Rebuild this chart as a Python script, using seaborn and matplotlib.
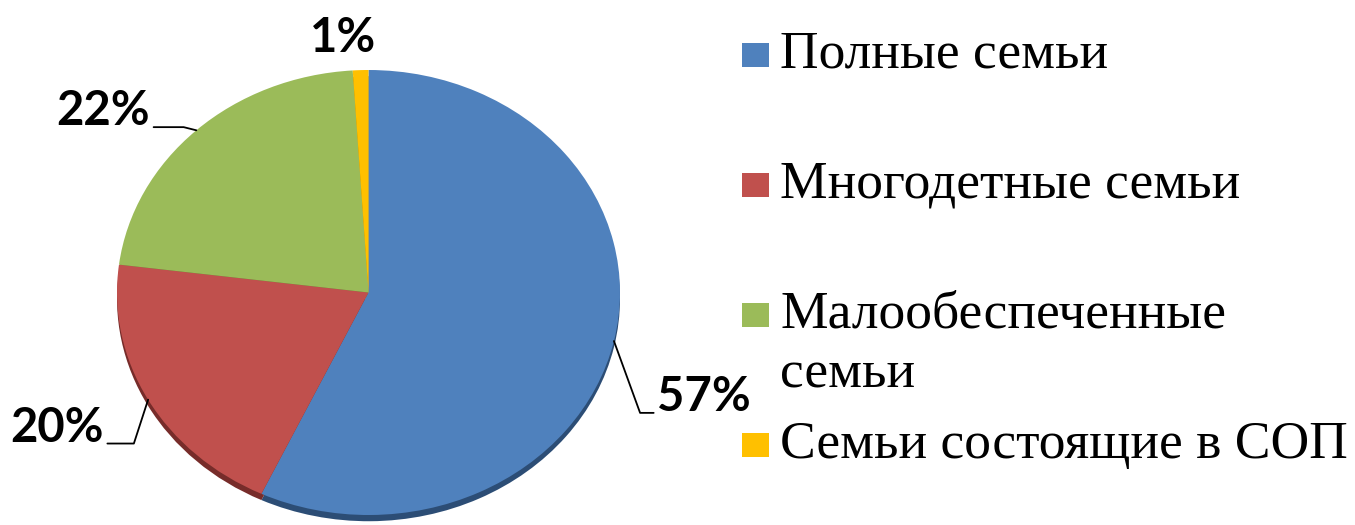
import numpy as np
import matplotlib
matplotlib.use("Agg")
import matplotlib.pyplot as plt
import seaborn as sns
from matplotlib.patches import Rectangle

# --- Dane ---
categories = ["Полные семьи", "Многодетные семьи", "Малообеспеченные\nсемьи",
              "Семьи состоящие в СОП"]
shares = [57, 20, 22, 1]
pct_labels = ["57%", "20%", "22%", "1%"]
colors = ["#4F81BD", "#C0504D", "#9BBB59", "#FFC000"]
shadow_colors = ["#2C4D75", "#772C2A", "#5F7530", "#B38600"]

sns.set_theme(style="white")
plt.rcParams['font.family'] = ['Liberation Serif', 'DejaVu Serif']

fig = plt.figure(figsize=(13.55, 5.25), dpi=100)
W, H = 1355, 525

# obszar elipsy w pikselach
px_l, px_r, px_t, px_b = 117, 620, 70, 515
ax = fig.add_axes([px_l / W, 1 - px_b / H, (px_r - px_l) / W, (px_b - px_t) / H])

# efekt "3D" pod wykresem
ax.pie(shares, colors=shadow_colors, startangle=90, counterclock=False,
       center=(0, -0.028), wedgeprops=dict(linewidth=0))
wedges, _ = ax.pie(shares, colors=colors, startangle=90, counterclock=False,
                   wedgeprops=dict(linewidth=0))
ax.set_aspect('auto')
ax.set_xlim(-1, 1)
ax.set_ylim(-1, 1)
ax.axis('off')

# --- Etykiety procentowe ---
label_font = dict(family=['Lato', 'DejaVu Sans'], fontweight='bold', fontsize=34, color='black')
# (przesunięcie w pikselach, ha, relpos, angleB)
label_cfg = [
    ((43, -70), 'left', (0, 0.14), -70),
    ((-44, -42), 'right', (1, 0.14), -108),
    ((-46, 5), 'right', (1, 0.14), -14),
    ((-18, 18), 'center', None, None),
]
for w, txt, (off, ha, relpos, angB) in zip(wedges, pct_labels, label_cfg):
    mid = np.deg2rad((w.theta1 + w.theta2) / 2)
    xy = (np.cos(mid), np.sin(mid))
    if relpos is None:
        ax.annotate(txt, xy=xy, xytext=off, textcoords='offset pixels',
                    ha=ha, va='baseline', **label_font)
    else:
        ax.annotate(txt, xy=xy, xytext=off, textcoords='offset pixels',
                    ha=ha, va='baseline', **label_font,
                    arrowprops=dict(arrowstyle='-', color='black', lw=1.3,
                                    relpos=relpos, shrinkA=0, shrinkB=0,
                                    connectionstyle=f'angle,angleA=0,angleB={angB},rad=0'))

# --- Legenda ---
leg_y = [55, 185, 315, 445]
for cat, col, y in zip(categories, colors, leg_y):
    fig.patches.append(Rectangle((742 / W, 1 - (y + 12) / H), 27 / W, 24 / H,
                                 transform=fig.transFigure, facecolor=col,
                                 edgecolor='none'))
    fig.text(780 / W, 1 - (y - 24) / H, cat, ha='left', va='top',
             family=['Liberation Serif', 'DejaVu Serif'],
             fontsize=38.5, color='black', linespacing=1.3)

fig.savefig("out.png", dpi=100)
